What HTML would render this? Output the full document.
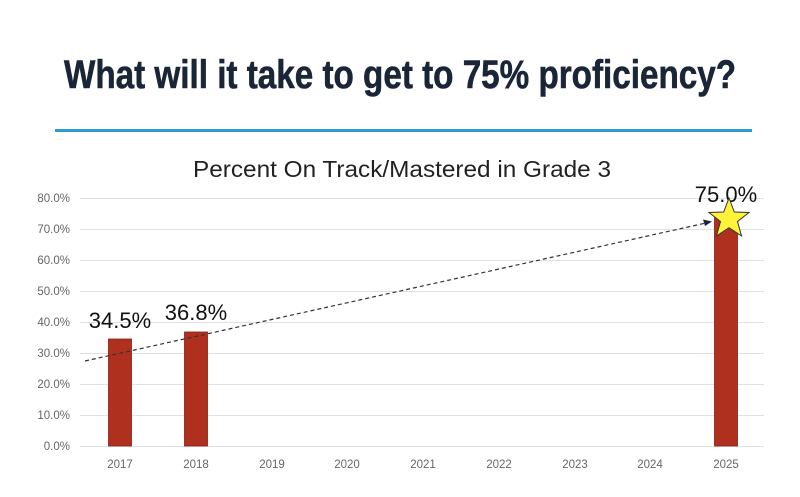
<!DOCTYPE html>
<html><head><meta charset="utf-8"><style>
html,body{margin:0;padding:0;background:#fff;}
body{width:800px;height:492px;overflow:hidden;}
</style></head><body>
<svg width="800" height="492" xmlns="http://www.w3.org/2000/svg" font-family="Liberation Sans, sans-serif">
<text x="400" y="88" text-anchor="middle" font-family="Liberation Sans Narrow, Liberation Sans, sans-serif" font-weight="bold" font-size="40" fill="#1b2538" stroke="#1b2538" stroke-width="0.6" textLength="672" lengthAdjust="spacingAndGlyphs">What will it take to get to 75% proficiency?</text>
<rect x="55" y="129" width="697" height="3" fill="#2e9bd0"/>
<text x="402" y="177" text-anchor="middle" font-size="23" fill="#222" textLength="418" lengthAdjust="spacingAndGlyphs">Percent On Track/Mastered in Grade 3</text>
<g stroke="#e0e0e0" stroke-width="1">
<line x1="80" x2="764" y1="198.5" y2="198.5"/>
<line x1="80" x2="764" y1="229.5" y2="229.5"/>
<line x1="80" x2="764" y1="260.5" y2="260.5"/>
<line x1="80" x2="764" y1="291.5" y2="291.5"/>
<line x1="80" x2="764" y1="322.5" y2="322.5"/>
<line x1="80" x2="764" y1="353.5" y2="353.5"/>
<line x1="80" x2="764" y1="384.5" y2="384.5"/>
<line x1="80" x2="764" y1="415.5" y2="415.5"/>
<line x1="80" x2="764" y1="446.5" y2="446.5"/>
</g>
<g font-size="11.5" fill="#666" text-anchor="end">
<text x="70" y="202">80.0%</text><text x="70" y="233">70.0%</text><text x="70" y="264">60.0%</text>
<text x="70" y="295">50.0%</text><text x="70" y="326">40.0%</text><text x="70" y="357">30.0%</text>
<text x="70" y="388">20.0%</text><text x="70" y="419">10.0%</text><text x="70" y="450">0.0%</text>
</g>
<g font-size="11.5" fill="#666" text-anchor="middle">
<text x="120" y="468">2017</text><text x="196" y="468">2018</text><text x="272" y="468">2019</text>
<text x="347" y="468">2020</text><text x="423" y="468">2021</text><text x="499" y="468">2022</text>
<text x="575" y="468">2023</text><text x="650" y="468">2024</text><text x="726" y="468">2025</text>
</g>
<g fill="#b03020" stroke="#8a1e12" stroke-width="0.8">
<rect x="108.5" y="339" width="23" height="107"/>
<rect x="184.5" y="332" width="23" height="114"/>
<rect x="714.5" y="214" width="23" height="232"/>
</g>
<line x1="85" y1="361" x2="706" y2="223" stroke="#333" stroke-width="1.2" stroke-dasharray="4,3"/>
<polygon points="712,221.5 703,219.5 705,226" fill="#1b2538"/>
<g font-size="22" fill="#111" text-anchor="middle">
<text x="120" y="328">34.5%</text>
<text x="196" y="320">36.8%</text>
<text x="726" y="202">75.0%</text>
</g>
<polygon points="729,198 734.3,212 749,212.5 737.5,221.6 741.6,236 729,227.7 716.4,236 720.5,221.6 709,212.5 723.7,212" fill="#fff33a" stroke="#333" stroke-width="1"/>
</svg>
</body></html>
